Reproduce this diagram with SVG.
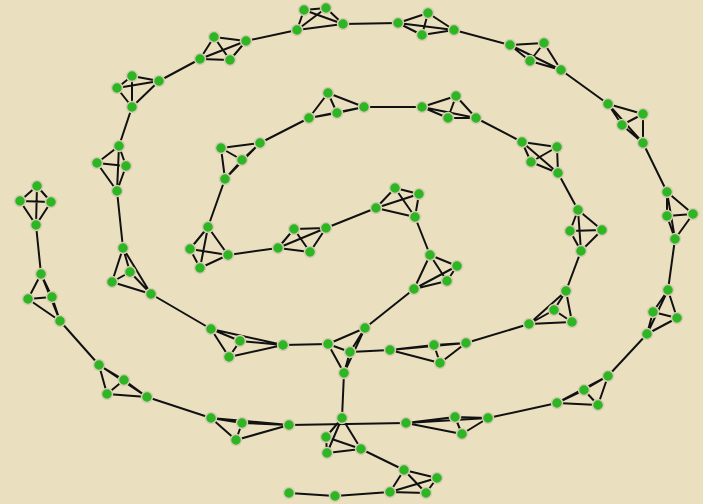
<svg xmlns="http://www.w3.org/2000/svg" width="703" height="504" viewBox="0 0 703 504">
<style>
.bg{fill:#EAE0C0}
.k{fill:none;stroke:#111;stroke-width:2;stroke-linejoin:round;stroke-linecap:round}
.node circle{fill:#2DB523;stroke:#D4CCB0;stroke-width:1.5}
</style>
<rect class="bg" x="0" y="0" width="703" height="504"/>
<g id="connectors" class="k">
<path d="M37,186 L20,201 L36,225 L51,202 L37,186 L36,225 M20,201 L51,202"/>
<path d="M41,274 L28,299 L60,321 L52,297 L41,274 L60,321 M28,299 L52,297"/>
<path d="M99,365 L124,380 L147,397 L107,394 L99,365 L147,397 M124,380 L107,394"/>
<path d="M211,418 L242,423 L289,425 L236,440 L211,418 L289,425 M242,423 L236,440"/>
<path d="M406,423 L455,417 L488,418 L462,434 L406,423 L488,418 M455,417 L462,434"/>
<path d="M557,403 L584,390 L608,376 L598,405 L557,403 L608,376 M584,390 L598,405"/>
<path d="M647,334 L653,312 L677,318 L668,290 L647,334 L677,318 M653,312 L668,290"/>
<path d="M667,192 L667,216 L675,239 L693,214 L667,192 L675,239 M667,216 L693,214"/>
<path d="M608,104 L643,114 L643,143 L622,125 L608,104 L643,143 M643,114 L622,125"/>
<path d="M510,45 L544,43 L561,70 L530,61 L510,45 L561,70 M544,43 L530,61"/>
<path d="M398,23 L428,13 L454,30 L422,35 L398,23 L454,30 M428,13 L422,35"/>
<path d="M304,10 L326,8 L343,24 L297,30 L304,10 L343,24 M326,8 L297,30"/>
<path d="M214,37 L246,41 L230,60 L200,59 L214,37 L230,60 M246,41 L200,59"/>
<path d="M132,76 L159,81 L132,107 L117,88 L132,76 L132,107 M159,81 L117,88"/>
<path d="M119,146 L97,163 L117,191 L126,166 L119,146 L117,191 M97,163 L126,166"/>
<path d="M123,248 L130,272 L151,294 L112,282 L123,248 L151,294 M130,272 L112,282"/>
<path d="M211,329 L240,341 L283,345 L229,357 L211,329 L283,345 M240,341 L229,357"/>
<path d="M328,344 L350,352 L365,328 L344,373 L328,344 L365,328 M350,352 L344,373"/>
<path d="M390,350 L434,345 L466,343 L440,363 L390,350 L466,343 M434,345 L440,363"/>
<path d="M529,324 L554,310 L566,291 L572,322 L529,324 L566,291 M554,310 L572,322"/>
<path d="M578,210 L570,231 L581,251 L602,230 L578,210 L581,251 M570,231 L602,230"/>
<path d="M522,142 L557,147 L558,173 L531,162 L522,142 L558,173 M557,147 L531,162"/>
<path d="M422,107 L456,96 L476,118 L448,118 L422,107 L476,118 M456,96 L448,118"/>
<path d="M328,93 L337,113 L364,107 L309,118 L328,93 L364,107 M337,113 L309,118"/>
<path d="M260,143 L221,148 L225,179 L242,160 L260,143 L225,179 M221,148 L242,160"/>
<path d="M208,227 L190,249 L200,268 L228,255 L208,227 L200,268 M190,249 L228,255"/>
<path d="M278,248 L294,229 L310,252 L326,228 L278,248 L310,252 M294,229 L326,228"/>
<path d="M395,188 L419,194 L415,217 L376,208 L395,188 L415,217 M419,194 L376,208"/>
<path d="M430,255 L457,266 L414,289 L447,281 L430,255 L414,289 M457,266 L447,281"/>
<path d="M342,418 L326,437 L361,449 L327,453 L342,418 L361,449 M326,437 L327,453"/>
<path d="M404,470 L437,478 L426,493 L390,492 L404,470 L426,493 M437,478 L390,492"/>
<path d="M36,225 L41,274 M60,321 L99,365 M147,397 L211,418 M289,425 L406,423 M488,418 L557,403 M608,376 L647,334 M668,290 L675,239 M667,192 L643,143 M608,104 L561,70 M510,45 L454,30 M398,23 L343,24 M297,30 L246,41 M200,59 L159,81 M132,107 L119,146 M117,191 L123,248 M151,294 L211,329 M283,345 L328,344 M350,352 L390,350 M466,343 L529,324 M566,291 L581,251 M578,210 L558,173 M522,142 L476,118 M422,107 L364,107 M309,118 L260,143 M225,179 L208,227 M228,255 L278,248 M326,228 L376,208 M415,217 L430,255 M414,289 L365,328 M344,373 L342,418 M361,449 L404,470 M390,492 L335,496 L289,493"/>
</g>
<g id="nodes">
<g id="A1" class="node"><circle cx="37" cy="186" r="5.5"/></g>
<g id="A2" class="node"><circle cx="20" cy="201" r="5.5"/></g>
<g id="A3" class="node"><circle cx="51" cy="202" r="5.5"/></g>
<g id="A4" class="node"><circle cx="36" cy="225" r="5.5"/></g>
<g id="B1" class="node"><circle cx="41" cy="274" r="5.5"/></g>
<g id="B2" class="node"><circle cx="28" cy="299" r="5.5"/></g>
<g id="B3" class="node"><circle cx="52" cy="297" r="5.5"/></g>
<g id="B4" class="node"><circle cx="60" cy="321" r="5.5"/></g>
<g id="C1" class="node"><circle cx="99" cy="365" r="5.5"/></g>
<g id="C2" class="node"><circle cx="124" cy="380" r="5.5"/></g>
<g id="C3" class="node"><circle cx="107" cy="394" r="5.5"/></g>
<g id="C4" class="node"><circle cx="147" cy="397" r="5.5"/></g>
<g id="D1" class="node"><circle cx="211" cy="418" r="5.5"/></g>
<g id="D2" class="node"><circle cx="242" cy="423" r="5.5"/></g>
<g id="D3" class="node"><circle cx="236" cy="440" r="5.5"/></g>
<g id="D4" class="node"><circle cx="289" cy="425" r="5.5"/></g>
<g id="E1" class="node"><circle cx="406" cy="423" r="5.5"/></g>
<g id="E2" class="node"><circle cx="455" cy="417" r="5.5"/></g>
<g id="E3" class="node"><circle cx="462" cy="434" r="5.5"/></g>
<g id="E4" class="node"><circle cx="488" cy="418" r="5.5"/></g>
<g id="F1" class="node"><circle cx="557" cy="403" r="5.5"/></g>
<g id="F2" class="node"><circle cx="584" cy="390" r="5.5"/></g>
<g id="F3" class="node"><circle cx="598" cy="405" r="5.5"/></g>
<g id="F4" class="node"><circle cx="608" cy="376" r="5.5"/></g>
<g id="G1" class="node"><circle cx="647" cy="334" r="5.5"/></g>
<g id="G2" class="node"><circle cx="653" cy="312" r="5.5"/></g>
<g id="G3" class="node"><circle cx="668" cy="290" r="5.5"/></g>
<g id="G4" class="node"><circle cx="677" cy="318" r="5.5"/></g>
<g id="H1" class="node"><circle cx="667" cy="192" r="5.5"/></g>
<g id="H2" class="node"><circle cx="667" cy="216" r="5.5"/></g>
<g id="H3" class="node"><circle cx="693" cy="214" r="5.5"/></g>
<g id="H4" class="node"><circle cx="675" cy="239" r="5.5"/></g>
<g id="I1" class="node"><circle cx="608" cy="104" r="5.5"/></g>
<g id="I2" class="node"><circle cx="643" cy="114" r="5.5"/></g>
<g id="I3" class="node"><circle cx="622" cy="125" r="5.5"/></g>
<g id="I4" class="node"><circle cx="643" cy="143" r="5.5"/></g>
<g id="J1" class="node"><circle cx="510" cy="45" r="5.5"/></g>
<g id="J2" class="node"><circle cx="544" cy="43" r="5.5"/></g>
<g id="J3" class="node"><circle cx="530" cy="61" r="5.5"/></g>
<g id="J4" class="node"><circle cx="561" cy="70" r="5.5"/></g>
<g id="K1" class="node"><circle cx="398" cy="23" r="5.5"/></g>
<g id="K2" class="node"><circle cx="428" cy="13" r="5.5"/></g>
<g id="K3" class="node"><circle cx="422" cy="35" r="5.5"/></g>
<g id="K4" class="node"><circle cx="454" cy="30" r="5.5"/></g>
<g id="L1" class="node"><circle cx="304" cy="10" r="5.5"/></g>
<g id="L2" class="node"><circle cx="326" cy="8" r="5.5"/></g>
<g id="L3" class="node"><circle cx="297" cy="30" r="5.5"/></g>
<g id="L4" class="node"><circle cx="343" cy="24" r="5.5"/></g>
<g id="M1" class="node"><circle cx="214" cy="37" r="5.5"/></g>
<g id="M2" class="node"><circle cx="246" cy="41" r="5.5"/></g>
<g id="M3" class="node"><circle cx="200" cy="59" r="5.5"/></g>
<g id="M4" class="node"><circle cx="230" cy="60" r="5.5"/></g>
<g id="N1" class="node"><circle cx="132" cy="76" r="5.5"/></g>
<g id="N2" class="node"><circle cx="159" cy="81" r="5.5"/></g>
<g id="N3" class="node"><circle cx="117" cy="88" r="5.5"/></g>
<g id="N4" class="node"><circle cx="132" cy="107" r="5.5"/></g>
<g id="O1" class="node"><circle cx="119" cy="146" r="5.5"/></g>
<g id="O2" class="node"><circle cx="97" cy="163" r="5.5"/></g>
<g id="O3" class="node"><circle cx="126" cy="166" r="5.5"/></g>
<g id="O4" class="node"><circle cx="117" cy="191" r="5.5"/></g>
<g id="P1" class="node"><circle cx="123" cy="248" r="5.5"/></g>
<g id="P2" class="node"><circle cx="130" cy="272" r="5.5"/></g>
<g id="P3" class="node"><circle cx="112" cy="282" r="5.5"/></g>
<g id="P4" class="node"><circle cx="151" cy="294" r="5.5"/></g>
<g id="Q1" class="node"><circle cx="211" cy="329" r="5.5"/></g>
<g id="Q2" class="node"><circle cx="240" cy="341" r="5.5"/></g>
<g id="Q3" class="node"><circle cx="229" cy="357" r="5.5"/></g>
<g id="Q4" class="node"><circle cx="283" cy="345" r="5.5"/></g>
<g id="R1" class="node"><circle cx="328" cy="344" r="5.5"/></g>
<g id="R2" class="node"><circle cx="350" cy="352" r="5.5"/></g>
<g id="R3" class="node"><circle cx="344" cy="373" r="5.5"/></g>
<g id="R4" class="node"><circle cx="365" cy="328" r="5.5"/></g>
<g id="S1" class="node"><circle cx="390" cy="350" r="5.5"/></g>
<g id="S2" class="node"><circle cx="434" cy="345" r="5.5"/></g>
<g id="S3" class="node"><circle cx="440" cy="363" r="5.5"/></g>
<g id="S4" class="node"><circle cx="466" cy="343" r="5.5"/></g>
<g id="T1" class="node"><circle cx="529" cy="324" r="5.5"/></g>
<g id="T2" class="node"><circle cx="554" cy="310" r="5.5"/></g>
<g id="T3" class="node"><circle cx="572" cy="322" r="5.5"/></g>
<g id="T4" class="node"><circle cx="566" cy="291" r="5.5"/></g>
<g id="U1" class="node"><circle cx="578" cy="210" r="5.5"/></g>
<g id="U2" class="node"><circle cx="570" cy="231" r="5.5"/></g>
<g id="U3" class="node"><circle cx="602" cy="230" r="5.5"/></g>
<g id="U4" class="node"><circle cx="581" cy="251" r="5.5"/></g>
<g id="V1" class="node"><circle cx="522" cy="142" r="5.5"/></g>
<g id="V2" class="node"><circle cx="557" cy="147" r="5.5"/></g>
<g id="V3" class="node"><circle cx="531" cy="162" r="5.5"/></g>
<g id="V4" class="node"><circle cx="558" cy="173" r="5.5"/></g>
<g id="W1" class="node"><circle cx="422" cy="107" r="5.5"/></g>
<g id="W2" class="node"><circle cx="456" cy="96" r="5.5"/></g>
<g id="W3" class="node"><circle cx="448" cy="118" r="5.5"/></g>
<g id="W4" class="node"><circle cx="476" cy="118" r="5.5"/></g>
<g id="X1" class="node"><circle cx="328" cy="93" r="5.5"/></g>
<g id="X2" class="node"><circle cx="337" cy="113" r="5.5"/></g>
<g id="X3" class="node"><circle cx="309" cy="118" r="5.5"/></g>
<g id="X4" class="node"><circle cx="364" cy="107" r="5.5"/></g>
<g id="Y1" class="node"><circle cx="260" cy="143" r="5.5"/></g>
<g id="Y2" class="node"><circle cx="221" cy="148" r="5.5"/></g>
<g id="Y3" class="node"><circle cx="242" cy="160" r="5.5"/></g>
<g id="Y4" class="node"><circle cx="225" cy="179" r="5.5"/></g>
<g id="Z1" class="node"><circle cx="208" cy="227" r="5.5"/></g>
<g id="Z2" class="node"><circle cx="190" cy="249" r="5.5"/></g>
<g id="Z3" class="node"><circle cx="228" cy="255" r="5.5"/></g>
<g id="Z4" class="node"><circle cx="200" cy="268" r="5.5"/></g>
<g id="AA1" class="node"><circle cx="278" cy="248" r="5.5"/></g>
<g id="AA2" class="node"><circle cx="294" cy="229" r="5.5"/></g>
<g id="AA3" class="node"><circle cx="326" cy="228" r="5.5"/></g>
<g id="AA4" class="node"><circle cx="310" cy="252" r="5.5"/></g>
<g id="BB1" class="node"><circle cx="395" cy="188" r="5.5"/></g>
<g id="BB2" class="node"><circle cx="419" cy="194" r="5.5"/></g>
<g id="BB3" class="node"><circle cx="376" cy="208" r="5.5"/></g>
<g id="BB4" class="node"><circle cx="415" cy="217" r="5.5"/></g>
<g id="CC1" class="node"><circle cx="430" cy="255" r="5.5"/></g>
<g id="CC2" class="node"><circle cx="457" cy="266" r="5.5"/></g>
<g id="CC3" class="node"><circle cx="447" cy="281" r="5.5"/></g>
<g id="CC4" class="node"><circle cx="414" cy="289" r="5.5"/></g>
<g id="HH1" class="node"><circle cx="342" cy="418" r="5.5"/></g>
<g id="HH2" class="node"><circle cx="326" cy="437" r="5.5"/></g>
<g id="HH3" class="node"><circle cx="327" cy="453" r="5.5"/></g>
<g id="HH4" class="node"><circle cx="361" cy="449" r="5.5"/></g>
<g id="BT1" class="node"><circle cx="404" cy="470" r="5.5"/></g>
<g id="BT2" class="node"><circle cx="437" cy="478" r="5.5"/></g>
<g id="BT3" class="node"><circle cx="390" cy="492" r="5.5"/></g>
<g id="BT4" class="node"><circle cx="426" cy="493" r="5.5"/></g>
<g id="SG1" class="node"><circle cx="335" cy="496" r="5.5"/></g>
<g id="SG2" class="node"><circle cx="289" cy="493" r="5.5"/></g>
</g>
</svg>
